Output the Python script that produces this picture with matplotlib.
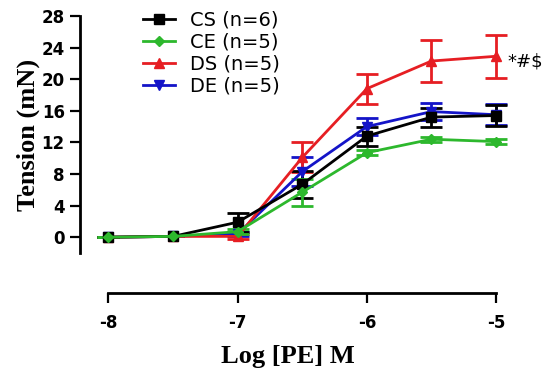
import matplotlib
matplotlib.use("Agg")
import matplotlib.pyplot as plt
from matplotlib.lines import Line2D

log_pe = [-8, -7.5, -7, -6.5, -6, -5.5, -5]

cs_mean = [0.0, 0.1, 1.9, 6.7, 12.8, 15.2, 15.4]
cs_err = [0.0, 0.0, 1.2, 1.7, 1.2, 1.2, 1.3]
ce_mean = [0.0, 0.1, 0.7, 5.7, 10.7, 12.4, 12.1]
ce_err = [0.0, 0.0, 0.3, 1.7, 0.3, 0.3, 0.3]
ds_mean = [0.0, 0.1, 0.1, 10.1, 18.8, 22.3, 22.9]
ds_err = [0.0, 0.0, 0.3, 1.9, 1.9, 2.6, 2.7]
de_mean = [0.0, 0.1, 0.4, 8.3, 14.0, 15.9, 15.5]
de_err = [0.0, 0.0, 0.3, 1.8, 1.1, 1.1, 1.3]

series = [
    ("DE (n=5)", de_mean, de_err, "#1414c8", "v", 7),
    ("DS (n=5)", ds_mean, ds_err, "#e61e23", "^", 7),
    ("CS (n=6)", cs_mean, cs_err, "#000000", "s", 6.5),
    ("CE (n=5)", ce_mean, ce_err, "#2db82d", "D", 5),
]
legend_order = ["CS (n=6)", "CE (n=5)", "DS (n=5)", "DE (n=5)"]

yticks = [0, 4, 8, 12, 16, 20, 24, 28]
xticks = [-8, -7, -6, -5]
xtick_labels = ["-8", "-7", "-6", "-5"]

fig = plt.figure(figsize=(5.5, 3.79), dpi=100)
ax = fig.add_axes([0.1455, 0.3325, 0.7565, 0.6253])

handles = {}
for label, m, e, c, mk, ms in series:
    ax.errorbar(log_pe, m, yerr=e, color=c, marker=mk, markersize=ms,
                linewidth=2, elinewidth=2, capsize=8, capthick=2,
                clip_on=False)
    handles[label] = Line2D([], [], color=c, marker=mk, markersize=ms,
                            linewidth=2)

ax.set_xlim(-8.22, -5)
ax.set_ylim(-2, 28)

for s in ["top", "right"]:
    ax.spines[s].set_visible(False)
ax.spines["left"].set_linewidth(2)
ax.spines["bottom"].set_linewidth(2)
ax.spines["bottom"].set_position(("outward", 29))
ax.spines["bottom"].set_bounds(-8, -5)
ax.spines["left"].set_bounds(-2, 28)

ax.set_yticks(yticks)
ax.set_xticks(xticks)
ax.set_xticklabels(xtick_labels)
ax.tick_params(axis="both", width=1.6, labelsize=12)
ax.tick_params(axis="y", length=7, pad=4)
ax.tick_params(axis="x", length=7, pad=8)
for lab in ax.get_xticklabels() + ax.get_yticklabels():
    lab.set_fontfamily("DejaVu Sans")
    lab.set_fontweight("bold")

ax.set_ylabel("Tension (mN)", fontfamily="Liberation Serif", fontweight="bold",
              fontsize=19, labelpad=1)
ax.set_xlabel("Log [PE] M", fontfamily="Liberation Serif", fontweight="bold",
              fontsize=19, labelpad=9)

leg = ax.legend([handles[l] for l in legend_order], legend_order,
                loc="upper left", bbox_to_anchor=(0.118, 1.08), frameon=False,
                prop={"family": "DejaVu Sans", "size": 14},
                handlelength=1.65, labelspacing=0.16, handletextpad=0.8,
                borderpad=0.2)

ax.text(-4.91, ds_mean[-1] - 0.6, "*#$", fontfamily="DejaVu Sans", fontsize=13,
        va="center", ha="left")

fig.savefig("out.png", dpi=100)
